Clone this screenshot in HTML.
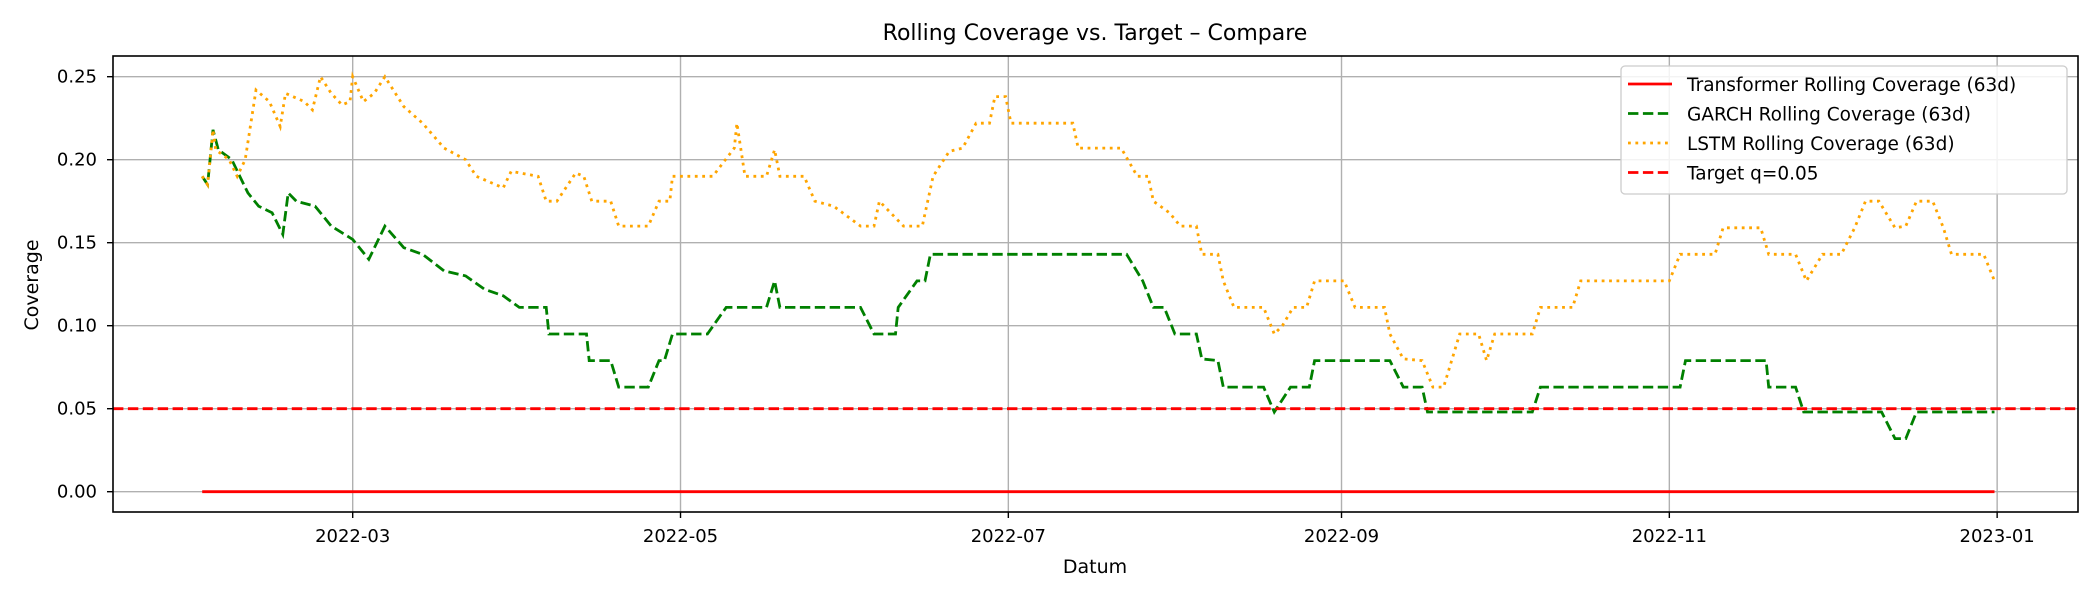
<!DOCTYPE html>
<html><head><meta charset="utf-8"><style>
html,body{margin:0;padding:0;background:#fff;}
svg{display:block;font-family:"DejaVu Sans","Liberation Sans",sans-serif;}
</style></head><body>
<svg id="chart" width="2100" height="600" viewBox="0 0 2100 600">
<rect x="0" y="0" width="2100" height="600" fill="#fff"/>
<text x="1095" y="40" font-size="22" text-anchor="middle">Rolling Coverage vs. Target – Compare</text>
<g id="grid"></g>
<g id="series"></g>
<rect x="113" y="56" width="1965" height="456" fill="none" stroke="#000" stroke-width="1.6"/>
<g id="axes"></g>
<text x="1095" y="573" font-size="19" text-anchor="middle">Datum</text>
<text x="0" y="0" font-size="19" text-anchor="middle" transform="translate(38,285) rotate(-90)">Coverage</text>
<g id="legend">
<rect x="1621" y="66" width="446" height="128" rx="4" fill="#fff" fill-opacity="0.85" stroke="#ccc" stroke-width="1.3"/>
</g>
</svg>
<script>
const tickDays=[59,120,181,243,304,365];
const tickLabels=["2022-03","2022-05","2022-07","2022-09","2022-11","2023-01"];
const yTicks=[0,0.05,0.10,0.15,0.20,0.25];
const yTickLabels=["0.00","0.05","0.10","0.15","0.20","0.25"];
const lstmDays=[31,32,33,33.5,36,37.5,39,41,43.5,45.5,46.5,50,51.5,53,55,57,58.5,59,61,63,65,68.5,72,76,80,82,87,88.5,93.5,95,97,100.5,102,103.5,107,108.5,114,116,118,118.5,126,130,130.5,132,136,137.5,138.5,143,145,148.5,153.5,156,157,160,161.5,165,167,170,172.5,175,177.5,178.5,180.5,181.5,193,194,202,205,207,208,211,213,216,217,220,221,223,228.5,230.5,232,234,236.5,238,243.5,245.5,251,252,254.5,258,260,262,265,268.5,270,271.5,278.5,280,286,287.5,304,306,312.5,314,321,322.5,327.5,329.5,332.5,336,338.5,340.5,343,346,348,350,353,355,356.5,362.5,364.5];
const lstmVals=[0.19,0.185,0.218,0.206,0.2,0.19,0.2,0.242,0.235,0.22,0.24,0.235,0.23,0.25,0.24,0.233,0.235,0.25,0.235,0.24,0.25,0.232,0.222,0.207,0.2,0.19,0.183,0.193,0.19,0.175,0.175,0.192,0.19,0.175,0.175,0.16,0.16,0.175,0.175,0.19,0.19,0.207,0.222,0.19,0.19,0.206,0.19,0.19,0.175,0.172,0.16,0.16,0.175,0.165,0.16,0.16,0.19,0.205,0.207,0.222,0.222,0.238,0.238,0.222,0.222,0.207,0.207,0.19,0.19,0.175,0.168,0.16,0.16,0.143,0.143,0.127,0.111,0.111,0.095,0.1,0.111,0.111,0.127,0.127,0.111,0.111,0.095,0.08,0.079,0.063,0.063,0.095,0.095,0.079,0.095,0.095,0.111,0.111,0.127,0.127,0.143,0.143,0.159,0.159,0.143,0.143,0.127,0.143,0.143,0.159,0.175,0.175,0.159,0.16,0.175,0.175,0.159,0.143,0.143,0.127];
const garchDays=[31,32,33,34,36.5,38,39.5,41.5,44,46,47,48.5,52,55,57.5,59,62,65,68.5,72,76,80,83.5,87,90,95,95.5,102.5,103,107,108.5,114,116,117,118.5,125,128.5,136,137.5,138.5,153.5,156,160,160.5,164,165.5,166.5,203,206,208,210,212,216,217,220,221,228.5,230.5,233.5,237,238,252,254.5,258,259,278.5,280,306,307,322,322.5,327.5,329,343.5,346,348,350,364.5];
const garchVals=[0.19,0.185,0.218,0.206,0.2,0.19,0.18,0.172,0.168,0.155,0.18,0.175,0.172,0.16,0.155,0.152,0.14,0.16,0.147,0.143,0.133,0.13,0.122,0.118,0.111,0.111,0.095,0.095,0.079,0.079,0.063,0.063,0.079,0.079,0.095,0.095,0.111,0.111,0.127,0.111,0.111,0.095,0.095,0.111,0.127,0.127,0.143,0.143,0.127,0.111,0.111,0.095,0.095,0.08,0.079,0.063,0.063,0.048,0.063,0.063,0.079,0.079,0.063,0.063,0.048,0.048,0.063,0.063,0.079,0.079,0.063,0.063,0.048,0.048,0.032,0.032,0.048,0.048];
const transDays=[31,364.5];
const transVals=[0,0];
const targetQ=0.05;

const NS="http://www.w3.org/2000/svg";
function xS(d){return 352.7+(d-59)*5.374;}
function yS(v){return 491.7-v*1660;}
function mk(tag,attrs,parent){const e=document.createElementNS(NS,tag);for(const k in attrs)e.setAttribute(k,attrs[k]);parent.appendChild(e);return e;}
const grid=document.getElementById('grid'),axes=document.getElementById('axes'),series=document.getElementById('series');
tickDays.forEach((d,i)=>{
  const x=xS(d);
  const g=mk('line',{x1:x,x2:x,y1:56,y2:512,stroke:'#b0b0b0','stroke-width':1.4},grid);
  
  
  mk('line',{x1:x,x2:x,y1:512,y2:518,stroke:'#000','stroke-width':1.4},axes);
  const t=mk('text',{x:x,y:542,'font-size':18,'text-anchor':'middle'},axes);
  t.textContent=tickLabels[i];
  
  
});
yTicks.forEach((v,i)=>{
  const y=yS(v);
  const g=mk('line',{x1:113,x2:2078,y1:y,y2:y,stroke:'#b0b0b0','stroke-width':1.4},grid);
  
  
  mk('line',{x1:107,x2:113,y1:y,y2:y,stroke:'#000','stroke-width':1.4},axes);
  const t=mk('text',{x:97,y:y+6,'font-size':18,'text-anchor':'end'},axes);
  t.textContent=yTickLabels[i];
  
  
});
function pts(ds,vs){return ds.map((d,i)=>xS(d).toFixed(1)+','+yS(vs[i]).toFixed(1)).join(' ');}
const tl=mk('polyline',{points:pts(transDays,transVals),fill:'none',stroke:'#ff0000','stroke-width':2.8},series);


const gl=mk('polyline',{points:pts(garchDays,garchVals),fill:'none',stroke:'#008000','stroke-width':2.8,'stroke-dasharray':'10.4 4.5'},series);


const ll=mk('polyline',{points:pts(lstmDays,lstmVals),fill:'none',stroke:'#ffa500','stroke-width':2.8,'stroke-dasharray':'2.8 4.6'},series);


const tg=mk('line',{x1:113,x2:2078,y1:yS(targetQ),y2:yS(targetQ),stroke:'#ff0000','stroke-width':2.8,'stroke-dasharray':'10.4 4.5'},series);



const leg=document.getElementById('legend');
const entries=[["Transformer Rolling Coverage (63d)","#ff0000",""],["GARCH Rolling Coverage (63d)","#008000","10.4 4.5"],["LSTM Rolling Coverage (63d)","#ffa500","2.8 4.6"],["Target q=0.05","#ff0000","10.4 4.5"]];
entries.forEach((e,i)=>{
  const y=84+i*29.5;
  const l=mk('line',{x1:1628,x2:1672,y1:y,y2:y,stroke:e[1],'stroke-width':2.8},leg);
  if(e[2])l.setAttribute('stroke-dasharray',e[2]);
  
  
  const t=mk('text',{x:1687,y:y+7,'font-size':18.5},leg);
  t.textContent=e[0];
  
  
});
</script>
</body></html>
